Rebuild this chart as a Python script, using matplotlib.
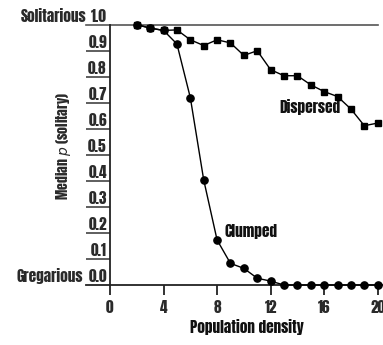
import numpy as np
import matplotlib
matplotlib.use('Agg')
import matplotlib.pyplot as plt
import matplotlib.transforms as mtransforms

plt.rcParams['font.family'] = ['Anton', 'Saira ExtraCondensed', 'Roboto Condensed', 'DejaVu Sans']

density = list(range(2, 21))
dispersed = [1.0, 0.987, 0.978, 0.98, 0.942, 0.92, 0.942, 0.93, 0.882, 0.9,
             0.827, 0.804, 0.804, 0.769, 0.743, 0.724, 0.676, 0.612, 0.622]
clumped = [1.0, 0.987, 0.978, 0.926, 0.72, 0.404, 0.173, 0.083, 0.064, 0.026,
           0.015, 0.0, 0.0, 0.0, 0.0, 0.0, 0.0, 0.0, 0.0]
yticks = [0.0, 0.1, 0.2, 0.3, 0.4, 0.5, 0.6, 0.7, 0.8, 0.9, 1.0]
ytick_labels = ['0.0', '0.1', '0.2', '0.3', '0.4', '0.5', '0.6', '0.7', '0.8', '0.9', '1.0']
xticks = [0, 4, 8, 12, 16, 20]

fig = plt.figure(figsize=(3.83, 3.45), dpi=100)
W, H = 383, 345
x0, x1 = 110, 377.7
y0, y1 = 285, 24.7
ax = fig.add_axes([x0 / W, (H - y0) / H, (x1 - x0) / W, (y0 - y1) / H])
ax.set_xlim(0, 20)
ax.set_ylim(0, 1)
for s in ['top', 'right', 'bottom']:
    ax.spines[s].set_visible(False)
ax.spines['left'].set_linewidth(1.3)
ax.spines['left'].set_color('#222222')

# top and bottom reference lines, extended left past the axis
ax.plot([-0.09, 1.0], [1.0, 1.0], transform=ax.transAxes, color='#555555', lw=1.2, clip_on=False)
ax.plot([-0.09, 1.03], [0.0, 0.0], transform=ax.transAxes, color='#222222', lw=1.3, clip_on=False)

# y ticks: long lines to the left, labels sitting on top of them
ax.set_yticks(yticks[1:-1])
ax.set_yticklabels([])
ax.tick_params(axis='y', direction='out', length=17.5, width=1.1, color='#333333')
ytrans = mtransforms.blended_transform_factory(ax.transAxes, ax.transData)
lift = ytrans + mtransforms.ScaledTranslation(0, 3 / 100, fig.dpi_scale_trans)

fs = 12
texts = []
for v, lab in zip(yticks, ytick_labels):
    texts.append(ax.text(-0.012, v, lab, transform=lift, ha='right', va='baseline',
                         fontsize=fs, color='#2a2a2a'))
sol = ax.text(-0.09, 1.0, 'Solitarious', transform=lift, ha='right', va='baseline',
              fontsize=fs, color='#2a2a2a')
greg = ax.text(-0.1, 0.0, 'Gregarious', transform=lift, ha='right', va='baseline',
               fontsize=fs, color='#2a2a2a')
texts += [sol, greg]

ax.set_xticks(xticks)
ax.set_xticklabels([str(v) for v in xticks], fontsize=fs, color='#2a2a2a')
ax.tick_params(axis='x', direction='out', length=7.5, width=1.3, color='#222222', pad=3)
texts += list(ax.get_xticklabels())

ax.plot(density, clumped, color='black', lw=1.0, marker='o', ms=5.2, clip_on=False, zorder=3)
ax.plot(density, dispersed, color='black', lw=1.0, marker='s', ms=5.0, clip_on=False, zorder=4)

texts.append(ax.text(12.63, 0.662, 'Dispersed', ha='left', va='baseline', fontsize=fs, color='#111111'))
texts.append(ax.text(8.54, 0.183, 'Clumped', ha='left', va='baseline', fontsize=fs, color='#111111'))
texts.append(ax.text(0.512, -0.1844, 'Population density', transform=ax.transAxes, ha='center',
                     va='baseline', fontsize=fs, color='#111111'))
ylab = ax.text(-0.1745, 0.534, 'Median $\\it{p}$ (solitary)', transform=ax.transAxes, ha='center',
               va='center', rotation=90, fontsize=fs, color='#2a2a2a')

# fit the font size: a bit wider than the reference lettering so it stays legible
r = fig.canvas.get_renderer()
scale = 66.0 / sol.get_window_extent(r).width
for t in texts:
    t.set_fontsize(fs * scale)
ylab.set_fontsize(fs * 108.0 / ylab.get_window_extent(r).height)

fig.savefig('out.png', dpi=100)
